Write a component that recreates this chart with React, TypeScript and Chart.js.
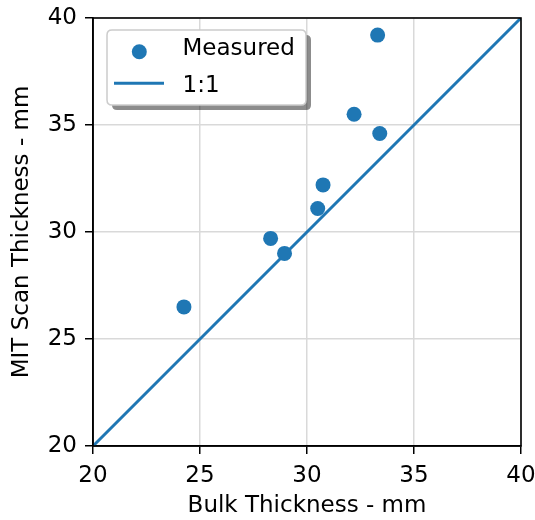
import React, { useEffect, useRef } from "react";
import { Chart, registerables } from "chart.js";

Chart.register(...registerables);

const bulkThickness = [24.25, 28.3, 28.95, 30.5, 30.75, 32.2, 33.3, 33.4];
const mitThickness = [26.5, 29.7, 29.0, 31.1, 32.2, 35.5, 39.2, 34.6];
const oneToOne = [20, 40];
const legendLabels = ["Measured", "1:1"];
const xTitle = "Bulk Thickness - mm";
const yTitle = "MIT Scan Thickness - mm";

const BLUE = "#1f77b4";
const FONT = "'DejaVu Sans'";
const FS = 23;

const framePlugin = {
  id: "frame",
  afterDraw(chart: any) {
    const { ctx, chartArea } = chart;
    const { left, right, top, bottom } = chartArea;
    ctx.save();
    ctx.strokeStyle = "#000";
    ctx.lineWidth = 1.6;
    ctx.strokeRect(left, top, right - left, bottom - top);

    // legend
    const bx = 107, by = 30, bw = 199, bh = 75, r = 5;
    const rr = (x: number, y: number) => {
      ctx.beginPath();
      ctx.moveTo(x + r, y);
      ctx.lineTo(x + bw - r, y);
      ctx.quadraticCurveTo(x + bw, y, x + bw, y + r);
      ctx.lineTo(x + bw, y + bh - r);
      ctx.quadraticCurveTo(x + bw, y + bh, x + bw - r, y + bh);
      ctx.lineTo(x + r, y + bh);
      ctx.quadraticCurveTo(x, y + bh, x, y + bh - r);
      ctx.lineTo(x, y + r);
      ctx.quadraticCurveTo(x, y, x + r, y);
      ctx.closePath();
    };
    rr(bx + 5, by + 5);
    ctx.fillStyle = "rgba(0,0,0,0.45)";
    ctx.fill();
    rr(bx, by);
    ctx.fillStyle = "#fff";
    ctx.fill();
    ctx.strokeStyle = "#cccccc";
    ctx.lineWidth = 1.5;
    ctx.stroke();

    ctx.fillStyle = BLUE;
    ctx.beginPath();
    ctx.arc(139.3, 51.7, 7.5, 0, Math.PI * 2);
    ctx.fill();

    ctx.strokeStyle = BLUE;
    ctx.lineWidth = 3;
    ctx.beginPath();
    ctx.moveTo(114, 83.3);
    ctx.lineTo(164, 83.3);
    ctx.stroke();

    ctx.fillStyle = "#000";
    ctx.font = `${FS}px ${FONT}`;
    ctx.textAlign = "left";
    ctx.textBaseline = "middle";
    ctx.fillText(legendLabels[0], 182.5, 49);
    ctx.fillText(legendLabels[1], 182.5, 86);
    ctx.restore();
  },
};

export default function App() {
  const ref = useRef<HTMLCanvasElement>(null);
  useEffect(() => {
    if (!ref.current) return;
    const chart = new Chart(ref.current, {
      type: "scatter",
      data: {
        datasets: [
          {
            type: "scatter",
            label: legendLabels[0],
            data: bulkThickness.map((x, i) => ({ x, y: mitThickness[i] })),
            backgroundColor: BLUE,
            borderWidth: 0,
            pointRadius: 7.5,
            pointHoverRadius: 7.5,
            order: 0,
          },
          {
            type: "line",
            label: legendLabels[1],
            data: oneToOne.map((v) => ({ x: v, y: v })),
            borderColor: BLUE,
            borderWidth: 3,
            pointRadius: 0,
            fill: false,
            order: 1,
          } as any,
        ],
      },
      options: {
        responsive: false,
        animation: false,
        events: [],
        layout: { padding: { top: 18, right: 14, left: 0, bottom: 0 } },
        plugins: { legend: { display: false }, tooltip: { enabled: false } },
        scales: {
          x: {
            type: "linear",
            min: 20,
            max: 40,
            afterFit: (s: any) => {
              s.height = 74;
              s.paddingLeft = 0;
              s.paddingRight = 0;
            },
            ticks: {
              stepSize: 5,
              color: "#000",
              padding: 8,
              font: { family: FONT, size: FS },
            },
            grid: {
              color: "#d9d9d9",
              lineWidth: 1.5,
              tickColor: "#000",
              tickWidth: 1.5,
              tickLength: 8,
            },
            border: { color: "#000", width: 1.6 },
            title: {
              display: true,
              text: xTitle,
              color: "#000",
              font: { family: FONT, size: FS },
              padding: { top: 0, bottom: 0 },
            },
          },
          y: {
            type: "linear",
            min: 20,
            max: 40,
            afterFit: (s: any) => {
              s.width = 93;
              s.paddingTop = 0;
              s.paddingBottom = 0;
            },
            ticks: {
              stepSize: 5,
              color: "#000",
              padding: 8,
              font: { family: FONT, size: FS },
            },
            grid: {
              color: "#d9d9d9",
              lineWidth: 1.5,
              tickColor: "#000",
              tickWidth: 1.5,
              tickLength: 8,
            },
            border: { color: "#000", width: 1.6 },
            title: {
              display: true,
              text: yTitle,
              color: "#000",
              font: { family: FONT, size: FS },
              padding: { top: 8, bottom: 0 },
            },
          },
        },
      },
      plugins: [framePlugin],
    });
    return () => chart.destroy();
  }, []);
  return (
    <div style={{ position: "absolute", left: 0, top: 0, width: 535, height: 520, background: "#fff" }}>
      <canvas ref={ref} width={535} height={520} style={{ width: 535, height: 520 }} />
    </div>
  );
}
